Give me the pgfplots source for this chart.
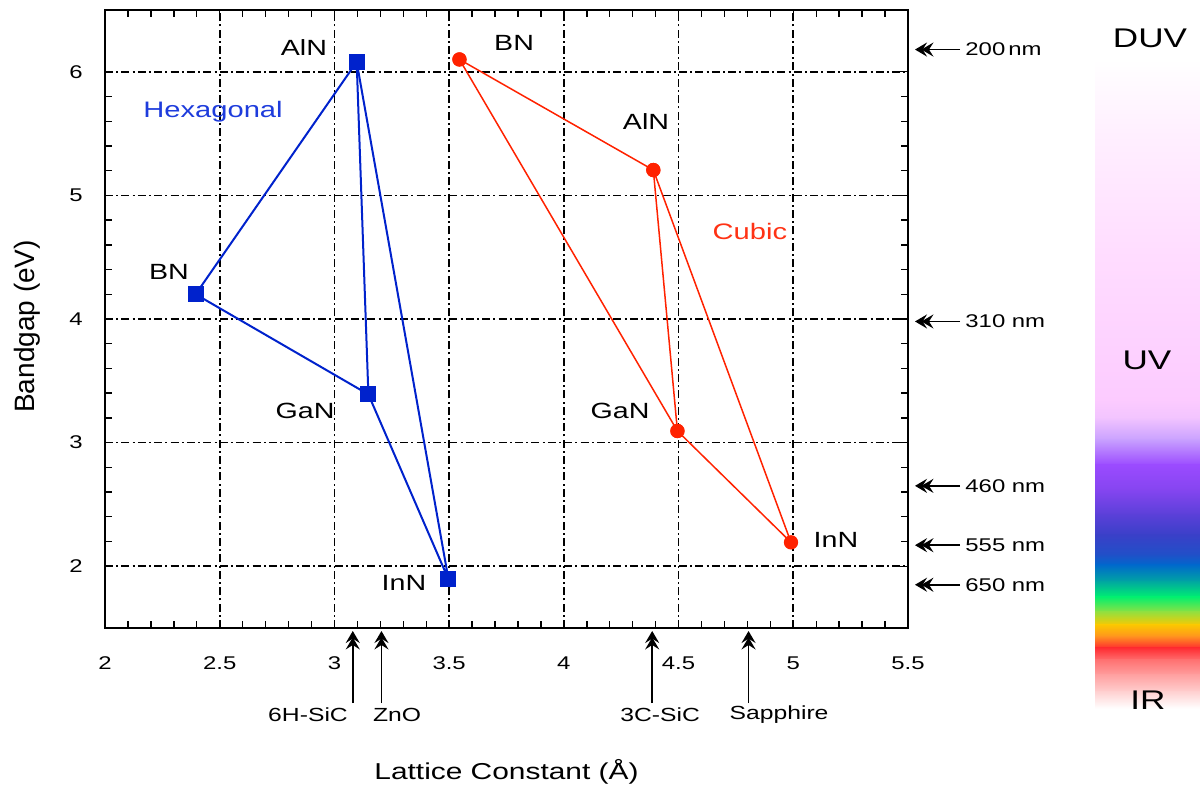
\documentclass[border=0pt]{standalone}
\usepackage{fontspec}
\setmainfont{Liberation Sans}[FakeStretch=1.3]
\newfontfamily\plainsf{Liberation Sans}
\usepackage{pgfplots}
\pgfplotsset{compat=1.18}
\usetikzlibrary{arrows.meta}
\definecolor{hexblue}{RGB}{0,34,204}
\definecolor{cubred}{RGB}{255,34,0}
\definecolor{hexlab}{RGB}{30,60,220}
\definecolor{cublab}{RGB}{255,50,20}
% spectrum colours
\definecolor{c1}{HTML}{FFFFFF}
\definecolor{c2}{HTML}{FFFFFF}
\definecolor{c3}{HTML}{FFF0FF}
\definecolor{c4}{HTML}{FFDDFF}
\definecolor{c5}{HTML}{FCCBFF}
\definecolor{c6}{HTML}{F2C4FF}
\definecolor{c7}{HTML}{C8A0FF}
\definecolor{c8}{HTML}{9B4BFF}
\definecolor{c9}{HTML}{8545F0}
\definecolor{c10}{HTML}{5A40D8}
\definecolor{c11}{HTML}{3A40C8}
\definecolor{c12}{HTML}{2050C8}
\definecolor{c13}{HTML}{0068CC}
\definecolor{c14}{HTML}{00A8A0}
\definecolor{c15}{HTML}{00F070}
\definecolor{c16}{HTML}{90E040}
\definecolor{c17}{HTML}{FCC800}
\definecolor{c18}{HTML}{FF9020}
\definecolor{c19}{HTML}{FF2A30}
\definecolor{c20}{HTML}{FF7070}
\definecolor{c21}{HTML}{FFA0A0}
\definecolor{c22}{HTML}{FFD0D0}
\definecolor{c23}{HTML}{FFFFFF}
\tikzset{dblarrow/.style={-{Stealth[length=6pt,width=7pt,inset=2.2pt,sep=-2.8pt]Stealth[length=6pt,width=7pt,inset=2.2pt]}}}
\newcommand{\rarrow}[2]{%
  \draw[line width=0.9pt, dblarrow] ([xshift=26pt]axis cs:5.5,#1) -- ([xshift=3.5pt]axis cs:5.5,#1);
  \node[anchor=west, font=\fontsize{9.2}{10}\selectfont, inner sep=0pt] at ([xshift=28.5pt]axis cs:5.5,#1) {#2};}
\newcommand{\barrow}[3]{%
  \draw[line width=0.9pt, dblarrow] ([yshift=-37.5pt]axis cs:#1,1.5) -- ([yshift=-1.5pt]axis cs:#1,1.5);
  \node[anchor=center, font=\fontsize{9.5}{11}\selectfont, inner sep=0pt] at ([yshift=-43.5pt]axis cs:#2,1.5) {#3};}
\begin{document}
\begin{tikzpicture}
\useasboundingbox (-52.5pt,-79.5pt) rectangle (547.5pt,314pt);
% spectrum bar
\foreach \ya/\ca/\yb/\cb in {304/c1/284/c2, 284/c2/249/c3, 249/c3/189/c4, 189/c4/114/c5, 114/c5/105/c6, 105/c6/94/c7, 94/c7/81.5/c8, 81.5/c8/69/c9, 69/c9/56.5/c10, 56.5/c10/46.5/c11, 46.5/c11/36.5/c12, 36.5/c12/31.5/c13, 31.5/c13/23/c14, 23/c14/15.5/c15, 15.5/c15/8/c16, 8/c16/1.5/c17, 1.5/c17/-4.5/c18, -4.5/c18/-10/c19, -10/c19/-16/c20, -16/c20/-23.5/c21, -23.5/c21/-32/c22, -32/c22/-40/c23}{
  \shade[top color=\ca, bottom color=\cb] (495pt,\ya pt+0.3pt) rectangle (548pt,\yb pt-0.3pt);
}
\node[font=\fontsize{13.5}{15}\selectfont] at (522.5pt,295pt) {DUV};
\node[font=\fontsize{13.5}{15}\selectfont] at (521pt,134pt) {UV};
\node[font=\fontsize{13.5}{15}\selectfont] at (521.5pt,-36pt) {IR};
\begin{axis}[
  at={(0,0)}, anchor=south west,
  scale only axis, width=401.5pt, height=309pt,
  xmin=2, xmax=5.5, ymin=1.5, ymax=6.5,
  clip=false,
  xtick={2,2.5,3,3.5,4,4.5,5,5.5},
  xticklabels={2,2.5,3,3.5,4,4.5,5,5.5},
  ytick={2,3,4,5,6},
  yticklabels={2,3,4,5,6},
  minor x tick num=4, minor y tick num=4,
  tick align=inside,
  major tick length=4pt, minor tick length=3.5pt,
  tick style={black, line width=0.7pt},
  axis line style={black, line width=1pt},
  grid=major,
  major grid style={black, line width=0.85pt, dash pattern=on 4pt off 1.6pt on 1pt off 1.6pt},
  ticklabel style={font=\fontsize{9.2}{10}\selectfont},
  xticklabel style={anchor=center, yshift=-17.5pt},
  yticklabel style={anchor=center, xshift=-14.5pt},
  xlabel={Lattice Constant (Å)},
  xlabel style={at={([yshift=-72pt]axis description cs:0.5,0)}, anchor=center, font=\fontsize{11.5}{13}\selectfont},
  ylabel={Bandgap (eV)},
  ylabel style={at={([xshift=-39pt]axis description cs:0,0.488)}, anchor=center, font=\plainsf\fontsize{14}{16}\selectfont},
]
% Hexagonal
\addplot[hexblue, line width=1pt, mark=square*, mark size=3.5pt, mark options={solid}] coordinates {(2.395,4.20) (3.097,6.08) (3.148,3.39) (2.395,4.20)};
\addplot[hexblue, line width=1pt, mark=square*, mark size=3.5pt] coordinates {(3.097,6.08) (3.497,1.894) (3.148,3.39)};
% Cubic
\addplot[cubred, line width=0.75pt, mark=*, mark size=3.2pt] coordinates {(3.545,6.10) (4.39,5.205) (4.495,3.094) (3.545,6.10)};
\addplot[cubred, line width=0.75pt, mark=*, mark size=3.2pt] coordinates {(4.39,5.205) (4.99,2.193) (4.495,3.094)};
% labels
\node[font=\fontsize{11}{12}\selectfont] at (axis cs:2.867,6.20) {AlN};
\node[font=\fontsize{11.2}{12}\selectfont, text=hexlab] at (axis cs:2.471,5.675) {Hexagonal};
\node[font=\fontsize{11}{12}\selectfont] at (axis cs:2.279,4.38) {BN};
\node[font=\fontsize{11}{12}\selectfont] at (axis cs:2.872,3.26) {GaN};
\node[font=\fontsize{11}{12}\selectfont] at (axis cs:3.303,1.864) {InN};
\node[font=\fontsize{11}{12}\selectfont] at (axis cs:3.783,6.233) {BN};
\node[font=\fontsize{11}{12}\selectfont] at (axis cs:4.358,5.60) {AlN};
\node[font=\fontsize{11.2}{12}\selectfont, text=cublab] at (axis cs:4.811,4.71) {Cubic};
\node[font=\fontsize{11}{12}\selectfont] at (axis cs:4.245,3.256) {GaN};
\node[font=\fontsize{11}{12}\selectfont] at (axis cs:5.186,2.212) {InN};
% right arrows
\rarrow{6.18}{200\,nm}
\rarrow{3.98}{310 nm}
\rarrow{2.65}{460 nm}
\rarrow{2.17}{555 nm}
\rarrow{1.85}{650 nm}
% bottom arrows
\barrow{3.08}{2.885}{6H-SiC}
\barrow{3.205}{3.273}{ZnO}
\barrow{4.385}{4.42}{3C-SiC}
\barrow{4.805}{4.938}{Sapphire}
\end{axis}
\end{tikzpicture}
\end{document}
